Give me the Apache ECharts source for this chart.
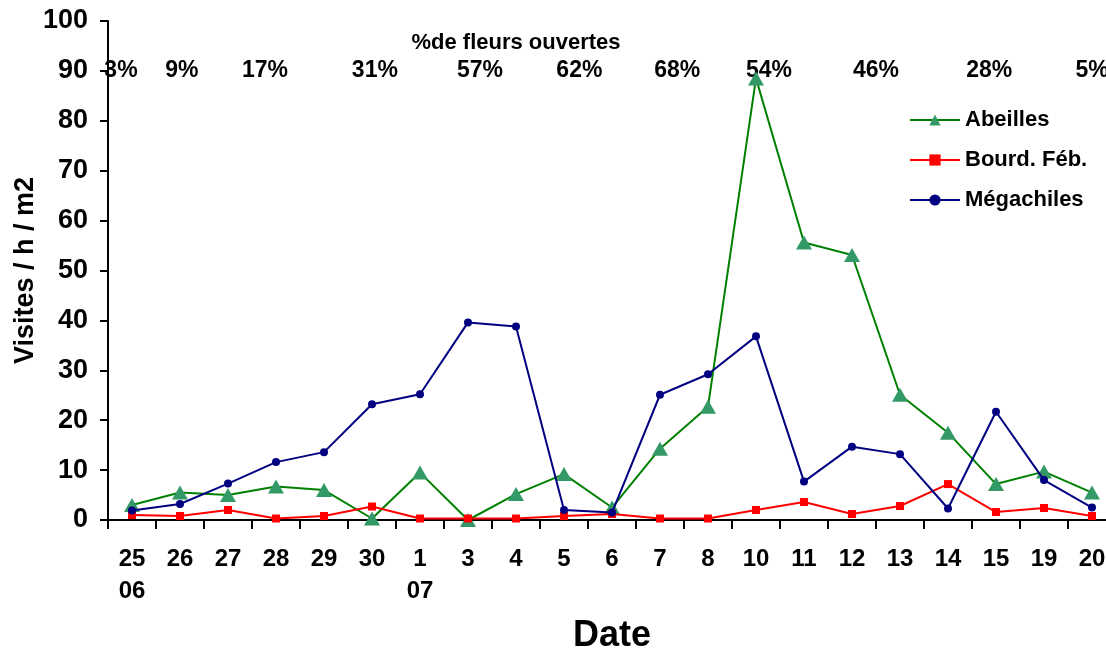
<!DOCTYPE html>
<html>
<head>
<meta charset="utf-8">
<script src="https://cdn.jsdelivr.net/npm/echarts@6/dist/echarts.min.js"></script>
<style>
  html, body { margin: 0; padding: 0; background: #ffffff; }
  #chart { width: 1106px; height: 653px; }
</style>
</head>
<body>
<div id="chart"></div>
<script>
// Sampling dates (day, with month on the first day of each month)
const dateLabels = ['25\n06', '26', '27', '28', '29', '30', '1\n07', '3', '4', '5', '6',
                    '7', '8', '10', '11', '12', '13', '14', '15', '19', '20'];

// Visits per hour per m2
const abeilles   = [3, 5.5, 5, 6.7, 6, 0.3, 9.5, 0, 5.2, 9.2, 2.5,
                    14.3, 22.7, 88.5, 55.6, 53.1, 25.1, 17.5, 7.2, 9.7, 5.5];
const bourdFeb   = [1.0, 0.8, 2.0, 0.3, 0.8, 2.7, 0.3, 0.3, 0.3, 0.8, 1.2,
                    0.3, 0.3, 2.0, 3.6, 1.2, 2.8, 7.2, 1.6, 2.4, 0.8];
const megachiles = [1.9, 3.2, 7.3, 11.6, 13.6, 23.2, 25.2, 39.6, 38.8, 2.0, 1.5,
                    25.1, 29.2, 36.8, 7.7, 14.7, 13.2, 2.3, 21.7, 8.0, 2.5];

// Share of open flowers, with where each note sits along the date axis
const flowerPct    = ['3%', '9%', '17%', '31%', '57%', '62%', '68%', '54%', '46%', '28%', '5%'];
const flowerPctPos = [-0.23, 1.04, 2.77, 5.06, 7.25, 9.32, 11.36, 13.27, 15.5, 17.86, 20.0];
const flowerPctLevel = 90;

const FONT = '"Liberation Sans", Arial, sans-serif';

const chart = echarts.init(document.getElementById('chart'), null, { renderer: 'canvas' });

chart.setOption({
  backgroundColor: '#ffffff',
  animation: false,
  grid: { left: 108, right: -10, top: 21, bottom: 133, containLabel: false, outerBoundsMode: 'none' },
  legend: {
    orient: 'vertical',
    left: 904,
    top: 104,
    itemWidth: 50,
    itemHeight: 14,
    itemGap: 18,
    textStyle: { fontFamily: FONT, fontWeight: 'bold', fontSize: 22, color: '#000' },
    data: ['Abeilles', 'Bourd. Féb.', 'Mégachiles']
  },
  graphic: [{
    type: 'text',
    x: 516,
    y: 43,
    style: {
      text: '%de fleurs ouvertes',
      font: 'bold 22px ' + FONT,
      fill: '#000',
      textAlign: 'center',
      textVerticalAlign: 'middle'
    }
  }],
  xAxis: [{
    type: 'category',
    data: dateLabels,
    boundaryGap: true,
    name: 'Date',
    nameLocation: 'middle',
    nameGap: 98,
    nameMoveOverlap: false,
    nameTextStyle: { fontFamily: FONT, fontWeight: 'bold', fontSize: 36, color: '#000' },
    axisLine: { show: true, onZero: false, lineStyle: { color: '#000', width: 2 } },
    axisTick: { show: true, alignWithLabel: false, length: 9, lineStyle: { color: '#000', width: 2 } },
    axisLabel: {
      interval: 0,
      margin: 23,
      fontFamily: FONT, fontWeight: 'bold', fontSize: 24, color: '#000',
      lineHeight: 32
    },
    splitLine: { show: false }
  }, {
    type: 'value',
    min: -0.5,
    max: 20.5,
    show: false
  }],
  yAxis: {
    type: 'value',
    min: 0,
    max: 100,
    interval: 10,
    name: 'Visites / h / m2',
    nameLocation: 'middle',
    nameRotate: 90,
    nameGap: 69,
    nameMoveOverlap: false,
    nameTextStyle: { fontFamily: FONT, fontWeight: 'bold', fontSize: 27, color: '#000' },
    axisLine: { show: true, onZero: false, lineStyle: { color: '#000', width: 2 } },
    axisTick: { show: true, inside: false, length: 8, lineStyle: { color: '#000', width: 2 } },
    axisLabel: { margin: 20, fontFamily: FONT, fontWeight: 'bold', fontSize: 27, color: '#000' },
    splitLine: { show: false }
  },
  series: [
    {
      // percentage notes along the top of the plot
      name: 'pct',
      type: 'scatter',
      xAxisIndex: 1,
      yAxisIndex: 0,
      silent: true,
      z: 1,
      symbol: 'circle',
      symbolSize: 1,
      itemStyle: { color: 'rgba(0,0,0,0)', opacity: 1 },
      label: {
        show: true,
        position: 'inside',
        opacity: 1,
        formatter: p => p.data[2],
        fontFamily: FONT, fontWeight: 'bold', fontSize: 23, color: '#000000'
      },
      data: flowerPct.map((t, i) => [flowerPctPos[i], flowerPctLevel, t])
    },
    {
      name: 'Abeilles',
      type: 'line',
      z: 3,
      data: abeilles,
      showAllSymbol: true,
      symbol: 'triangle',
      symbolSize: [16, 14],
      lineStyle: { color: '#008000', width: 2 },
      itemStyle: { color: '#339966' }
    },
    {
      name: 'Bourd. Féb.',
      type: 'line',
      z: 4,
      data: bourdFeb,
      showAllSymbol: true,
      symbol: 'rect',
      symbolSize: 8,
      lineStyle: { color: '#ff0000', width: 2 },
      itemStyle: { color: '#ff0000' }
    },
    {
      name: 'Mégachiles',
      type: 'line',
      z: 5,
      data: megachiles,
      showAllSymbol: true,
      symbol: 'circle',
      symbolSize: 8,
      lineStyle: { color: '#000080', width: 2 },
      itemStyle: { color: '#000080' }
    }
  ]
});
</script>
</body>
</html>
